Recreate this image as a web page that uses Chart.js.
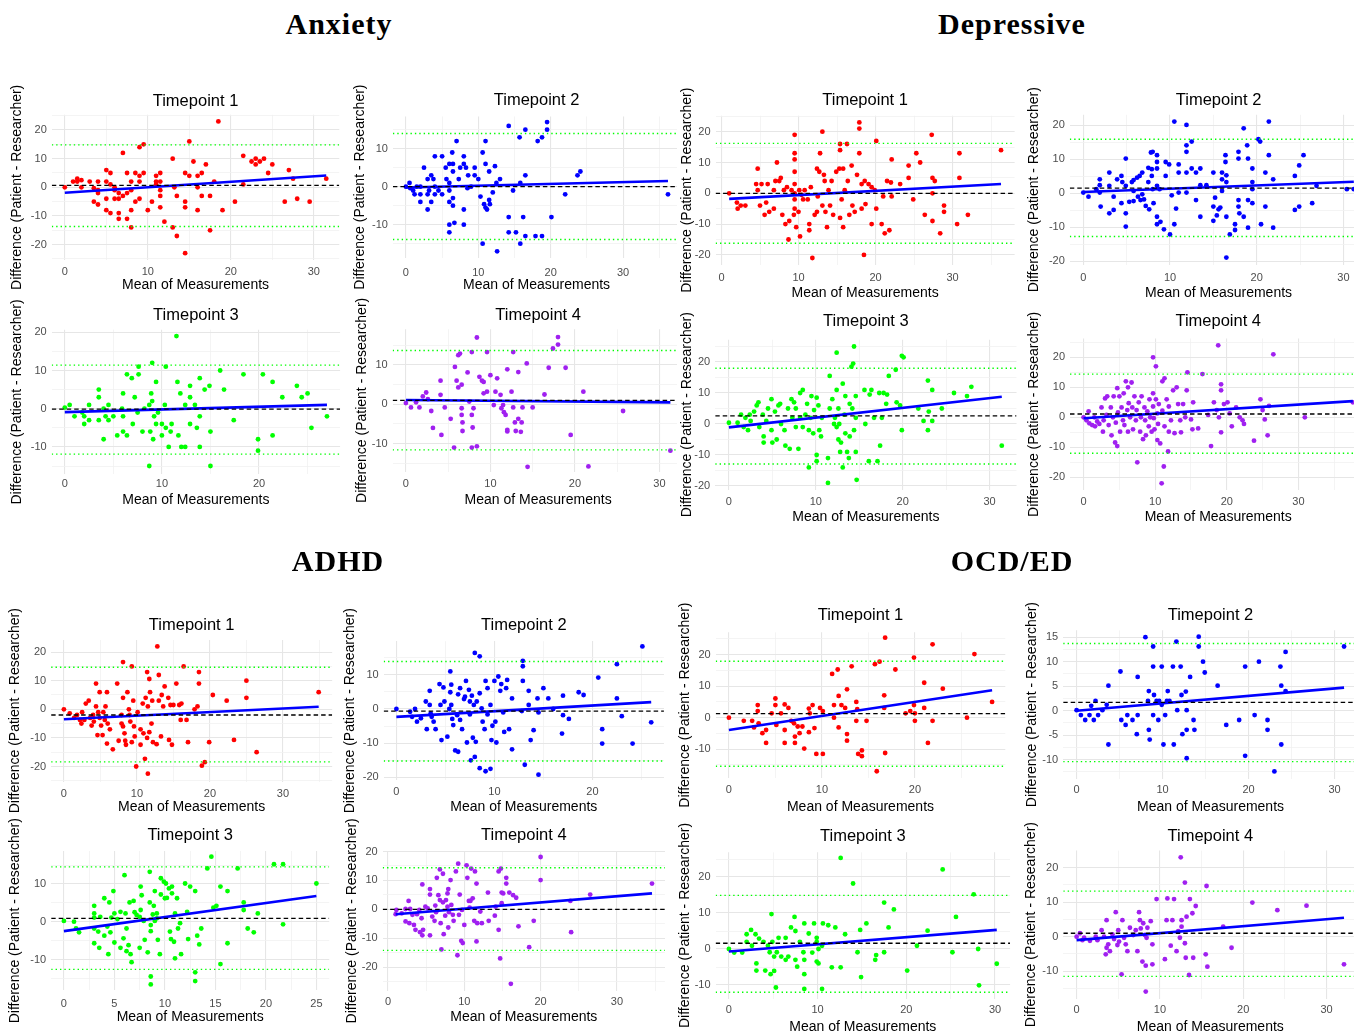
<!DOCTYPE html>
<html><head><meta charset="utf-8">
<script src="https://cdn.jsdelivr.net/npm/chart.js@4.4.1/dist/chart.umd.min.js"></script>
<style>
html,body{margin:0;padding:0;background:#fff;}
body{width:1354px;height:1035px;position:relative;overflow:hidden;}
.grp{position:absolute;top:0;height:1035px;overflow:hidden;}
.gt{position:absolute;font-family:'Liberation Serif','Times New Roman',serif;font-weight:bold;font-size:30px;letter-spacing:1px;color:#000;transform:translate(-50%,-50%);white-space:nowrap;line-height:1;}
canvas{position:absolute;}
</style></head><body>
<div class="grp" id="gL" style="left:0;width:677px"></div>
<div class="grp" id="gR" style="left:677px;width:677px"></div>
<div class="gt" style="left:339px;top:24px">Anxiety</div>
<div class="gt" style="left:1012px;top:24px">Depressive</div>
<div class="gt" style="left:338px;top:561px">ADHD</div>
<div class="gt" style="left:1012px;top:561px">OCD/ED</div>
<script>
// ---------------- DATA ----------------
const groupTitles = ['Anxiety','Depressive','ADHD','OCD/ED'];
const timepointTitles = ['Timepoint 1','Timepoint 2','Timepoint 3','Timepoint 4'];
const xAxisLabel = 'Mean of Measurements';
const yAxisLabel = 'Difference (Patient - Researcher)';

const anxietyT1 = [[0,0],[1,2],[1.5,3],[1.5,2],[2,2.5],[2,0],[3,2],[3.5,-0.3],[3.5,-5],[4,2],[4,-1],[4,-6],[4,-2],[5,6],[5,2],[5,-4],[5,-8],[5.5,5],[5.5,1],[5.5,-9],[6,0],[6,-4],[6,-1],[6.5,-4],[6.5,-2],[6.5,-9],[6.5,-11],[7,12],[7,-3],[7.5,-2],[7.5,-11],[7.5,5],[8,-8],[8,2],[8,-1],[8,-14],[8.5,5],[8.5,-5],[9,14],[9,4],[9,2],[9,-4],[9.5,15],[9.5,5],[10,-8],[10.5,-5],[11,2],[11,1],[11,4],[11.5,5],[11.5,-1],[11.5,-3],[11.5,-7],[11.5,2],[12,-12],[13,10],[13,-14],[13.2,0],[13.5,-3],[13.5,-17],[14.5,5],[14.5,-5],[14.5,-7],[14.5,-23],[15,16],[15,4],[15.5,9],[16,0],[16,4],[16,-8],[16.5,5],[16.5,-3],[17,8],[17.5,-3],[17.5,-15],[18,2],[18.5,23],[19,-8],[20.5,-5],[21.5,1],[21.5,11],[22.5,9],[23,10],[23,8],[23.5,9],[24,10],[24.5,5],[25,8],[26.5,-5],[27,6],[27.5,3],[28,-4],[29.5,-5],[31.5,3]];
const anxietyT2 = [[0,0],[0.5,1],[0.6,-0.4],[1,-1],[1.5,0],[1.2,-2],[2,0],[2,-4],[2,-2],[2.5,5],[3,2],[3,-2],[3,-6],[3.2,-1],[3.5,3],[3.5,-4],[3.8,2],[4,8],[4,-2],[4,0],[4.5,-1],[5,8],[5,-2],[5.5,5],[5.6,2],[6,6],[6,1],[6,-1],[6,-4],[6,-10],[6,-12],[6.4,9],[6.5,6],[6.5,4],[6.5,-3],[6.5,-5],[6.7,-9.5],[7,12],[7.3,2],[7.5,5],[8,6],[8,8],[8,-6],[8,-10],[8.3,5],[8.5,-0.4],[8.6,3],[9,0],[9.5,5],[9.5,3],[10,2],[10.3,-2.6],[10.6,9],[10.6,-15],[10.8,-4.6],[11,12],[11,6],[11,-5.5],[11.2,-6],[11.5,-3.5],[11.5,4],[11.6,-4.6],[12,-1.5],[12.3,5.4],[12.5,1],[12.6,-17],[13,2],[14.2,16],[14.2,-8],[14.2,-12],[14.8,-1],[15.2,-12],[15.7,13],[15.8,1],[15.8,-15],[16.2,-8],[16.5,15],[16.5,3],[16.5,-13],[17.9,-13],[18.2,12],[18.8,13],[18.8,-13],[19.5,15],[19.5,17],[20.1,-8],[22,-2],[23.7,3],[24.1,4],[36.2,-2]];
const anxietyT3 = [[0,0.3],[0.5,1],[1,-2],[1.8,-1],[2,-2],[2,-4],[2.5,1],[2.5,-3],[3.5,5],[3.5,3],[3.5,-3],[4,-8],[4,0],[4.2,-2],[4.5,1],[4.5,-3],[5,-2],[5.4,-7],[5.9,0],[6,4],[6,-2],[6,-6],[6.4,9],[6.4,-7],[6.9,8],[7,-4],[7.2,3],[7.5,-1],[7.6,11],[7.6,9],[8,-6],[8.2,0],[8.7,1],[8.7,-15],[8.8,-6],[8.9,4],[9,2],[9,12],[9.1,-8],[9.2,-2],[9.4,7],[9.4,-4],[9.6,-1],[10,-7],[10,-4],[10.3,1],[10.4,11],[10.4,-5],[10.7,-10],[10.9,-6],[11,-4],[11.5,19],[11.6,7],[11.7,-7],[11.9,4],[12,-10],[12.4,-10],[12.4,1],[12.9,6],[12.9,3],[12.9,-4],[13.4,1],[13.6,-5],[13.9,8],[13.9,-2],[13.9,-10],[14.4,5],[14.9,6],[15,-6],[15,-15],[16,10],[16.4,5],[17.4,-3],[18.4,9],[19.9,-11],[19.9,-8],[20.4,9],[21.4,7],[21.4,-7],[22.4,3],[23.9,6],[24.4,3],[25,4],[25.4,-5],[27,-2]];
const anxietyT4 = [[0,0.3],[0.6,-0.8],[1.2,0.5],[1.6,-0.8],[2,2],[2.4,3],[2.6,1.3],[3,-1.7],[3.2,-6],[4.1,6],[4.1,2.4],[4.2,-7.8],[4.6,-0.8],[5.3,-3.7],[5.7,-11],[5.8,9.5],[6,6],[6.2,12.5],[6.2,4.3],[6.4,12.9],[6.6,5],[6.6,-1],[6.6,-2.7],[6.7,-6.8],[6.7,-4.6],[7.3,8.1],[7.5,0.7],[7.8,13.3],[7.8,-2.7],[7.8,-11],[7.9,-5.9],[8,-1],[8.4,17],[8.4,-10.7],[8.7,7],[9,6],[9.2,5.7],[9.2,2.8],[9.6,13.3],[9.6,3.2],[10,7.4],[10.4,-0.2],[10.6,3.2],[10.8,6.6],[11.2,2.4],[11.3,-1],[11.5,-0.2],[11.6,-2],[11.8,-2.7],[12,-6.5],[12,8.9],[12,-6.9],[12.5,3.2],[12.7,13.3],[12.7,-0.8],[12.9,-4.6],[13,-6.8],[13.3,8.2],[13.3,-3.7],[13.6,-7],[13.7,-4.6],[13.8,-0.8],[14.3,10.4],[14.4,-15.9],[15,-0.8],[16.4,2.5],[16.9,9.3],[17.4,14.2],[18,15.2],[18,17.1],[18.9,9.3],[19.5,-7.8],[21,3.2],[21.6,-15.8],[25.7,-1.7],[31.3,-11.8]];

const depressiveT1 = [[1,0],[2,-3],[2.1,-5],[2.5,-4],[3.1,-4],[4.5,3],[4.7,8],[4.7,1],[5,-4],[5.2,3],[5.6,-7],[5.8,-3],[6,3],[6.2,-6],[6.8,1],[6.8,-5],[7,4],[7.2,10],[7.5,4],[7.7,5],[7.9,-7],[8.1,1],[8.3,-10],[8.5,2],[8.7,-15],[8.8,-9],[9.1,1],[9.4,-7],[9.5,19],[9.5,13],[9.5,11],[9.5,7],[9.5,3],[9.5,0],[9.5,-2],[9.5,-5],[9.7,-11],[10,-6],[10.1,1],[10.2,-14],[10.4,-0.5],[10.6,-2],[10.8,1],[11.2,-2],[11.4,-10],[11.4,-12],[11.6,2],[11.8,-21],[12.1,-7],[12.4,8],[12.4,-6],[12.5,-1],[12.7,7],[12.8,13],[13.1,20],[13.1,-4],[13.3,6],[13.4,4],[13.5,-6],[13.7,-11],[13.9,1],[14.1,-4],[14.3,4],[14.5,-7],[14.9,7],[15.3,8],[15.4,16],[15.4,14],[15.4,-8],[15.6,-2],[15.8,8],[15.8,-11],[16,1],[16.3,16],[16.4,4],[16.6,-7],[16.9,9],[17,-4],[17.3,-6],[17.6,6],[17.9,23],[17.9,21],[17.9,13],[18.2,3],[18.2,-5],[18.5,-20],[18.6,4],[18.7,-3.5],[19.1,3],[19.5,-10],[19.5,2],[19.9,1],[20.1,17],[20.1,-5],[20.8,-10],[21,-1],[21.2,-13],[21.5,4],[21.8,-12],[22,3.5],[22.1,11],[22.1,-1],[23.2,3],[24.3,9],[24.3,5],[24.9,-2],[25.3,13],[25.8,10],[26.4,-7],[27.3,19],[27.4,5],[27.4,0],[27.4,-9],[27.7,4],[28.4,-13],[28.9,-4],[28.9,-6],[30.6,-10],[30.9,13],[30.9,5],[32,-7],[36.3,14]];
const depressiveT2 = [[0,0.2],[0.6,-1],[1.5,1.2],[1.9,4.1],[1.9,2.4],[2,-3.9],[1.9,0.2],[3,6.1],[3,2.2],[3,-5.9],[3.5,-1],[3.5,-4.9],[3.9,4.1],[4.4,5.1],[4.5,3.3],[4.9,10.2],[4.9,2.2],[4.9,-5.9],[4.9,-9.8],[4.4,-2.9],[5.3,-2.5],[5.6,3.3],[5.8,3.9],[5.8,0.7],[5.8,-2.3],[6.2,4.6],[6.3,-1],[6.5,5.1],[6.6,-2],[6.8,6.1],[6.8,-0.3],[7,-1.8],[7.2,-3.7],[7.5,7.5],[7.5,3.3],[7.6,-4.7],[7.8,12],[8,12.2],[7.9,7.1],[7.9,5.1],[8,1.2],[8.1,-2.9],[8.5,11.2],[8.5,9.2],[8.5,7.3],[8.5,2.2],[8.5,-6.9],[8.5,-9.1],[8.8,1.2],[8.9,-8.4],[9.3,-10.6],[9.5,9.2],[9.5,5.1],[9.9,8.5],[10,-12.1],[10.2,-0.6],[10.5,21.1],[10.5,-9.1],[10.7,-4.5],[11,8.5],[11,6.1],[11,0.2],[11.9,20.1],[11.9,14.1],[11.9,12.2],[11.9,6.1],[11.9,0.2],[12.5,15.2],[12.5,7.3],[13,6.1],[13,-2],[13.5,7.3],[13.5,-6.9],[13.5,2.4],[14.2,2.4],[15,6.1],[15,-3.9],[15,-8.1],[15.2,-1.3],[15.4,-6.5],[15.6,-4.7],[15.8,-4.2],[16,6.1],[16,4.1],[16,0.7],[16.4,11.2],[16.4,9.2],[16.5,5.3],[16.5,-6.9],[16.5,-18.9],[16.5,3.3],[16.9,-12.1],[17.5,-9.1],[17.5,-10.8],[17.9,12.2],[17.9,10.2],[17.9,-2],[17.9,-3.9],[18,-5.9],[18.5,19.1],[18.5,-6.9],[18.9,14.1],[19,10.2],[19,-2],[19,-10.1],[19.5,7.3],[19.5,3.3],[19.5,1.2],[19.5,-2.9],[20.2,15.9],[20.4,15.2],[20.5,-9.1],[21,6.1],[21,-3.9],[21.4,21.1],[21.4,11.2],[21.9,4.1],[21.9,-10.1],[24.4,5.1],[24.4,-4.9],[24.9,8.2],[24.9,-3.9],[25.4,11.2],[26.4,-2.9],[26.9,2.2],[30.4,1.2],[31.2,1.2]];
const depressiveT3 = [[0,0.4],[1,0.4],[1.4,3],[1.7,-1],[1.9,2],[2.2,-2],[2.4,3],[2.5,1],[2.9,4],[3.2,6],[3.4,7],[3.5,-1],[3.9,3],[4,-4],[4,-6],[4.3,1],[4.5,5],[4.9,8],[4.9,-2],[5,-6],[5.3,4],[5.5,-5],[5.7,6],[5.9,6.5],[6,0],[6.4,-2],[6.5,-7],[6.8,5],[7,-8],[7.2,8],[7.3,2],[7.5,7],[7.7,5],[7.7,-1],[8,-8],[8.2,2],[8.2,10],[8.5,11],[8.5,-1],[8.8,3],[9,6.5],[9.2,-2],[9.2,-14],[9.4,2],[9.5,9],[9.7,-3],[9.8,4.5],[10.1,8.5],[10.1,-10],[10.1,-12],[10.3,6],[10.4,-2],[10.6,-4],[10.7,2],[11.4,-19],[11.4,-11],[11.6,5],[11.6,15.5],[11.9,8],[12.1,0],[12.2,2],[12.4,23],[12.4,11],[12.4,-1],[12.6,5],[12.6,-5],[12.7,0],[12.8,-9],[12.9,-6],[13.1,13],[13.1,-14],[13.3,3],[13.4,9],[13.4,-3],[13.6,-9],[13.8,-11],[13.9,6.5],[13.9,-4],[14.1,18.5],[14.2,5],[14.3,19.5],[14.4,-2],[14.4,25],[14.6,9],[14.6,2],[14.6,-9],[14.7,-18],[15.6,11],[15.7,0],[16.1,-12],[16.2,9.5],[16.4,11],[16.7,2],[17.1,-12],[17.3,10],[17.4,-7],[17.6,2],[17.8,10],[18.1,6.5],[18.2,9.5],[18.4,15.5],[19.2,17.5],[19.3,7],[19.7,6],[19.9,22],[20.1,21.5],[19.9,-2],[21.8,5],[22.4,1],[22.9,14],[22.9,-2],[23,4],[23.4,11],[23.4,1],[24.5,5],[25.9,10],[27.4,9],[27.9,12],[31.4,-7]];
const depressiveT4 = [[0,0],[0.4,-1],[0.7,2],[0.8,-2],[1.2,-2.6],[1.5,0],[1.6,-3],[1.9,-1.4],[2.2,-2.2],[2.5,3.3],[2.7,-4.8],[2.8,-1],[3,6.3],[3.2,0.8],[3.3,7],[3.5,-2.6],[3.8,3.3],[3.9,-6],[4.1,0],[4.2,7],[4.4,-8.4],[4.5,-1.8],[4.7,9.7],[4.7,-9.6],[4.8,1.6],[5,7],[5.1,-4.8],[5.3,3.3],[5.5,-1],[5.6,8],[5.7,-2.6],[5.9,12],[6.1,2.4],[6.2,-4.8],[6.2,10],[6.3,4.7],[6.5,0],[6.7,11.6],[6.8,3.3],[6.9,-4],[7.1,7],[7.3,-1],[7.4,2.4],[7.5,-15],[7.7,5],[7.9,-4.8],[8,0],[8.1,7],[8.3,-7.3],[8.5,3.3],[8.6,-1],[8.7,-6],[8.9,2],[9.1,-3],[9.2,6],[9.3,0],[9.5,-4.8],[9.7,20],[9.7,8],[9.7,3.6],[9.8,-0.3],[9.9,-4],[10.1,17],[10.1,6],[10.3,1.3],[10.3,-7.6],[10.4,-2.2],[10.5,4.4],[10.7,-8.7],[10.9,-22],[11,12],[11,2.2],[11.2,-16.4],[11.3,13],[11.3,-3],[11.6,6],[11.8,-11.4],[11.9,3.6],[11.9,-4.8],[12.2,-1],[12.5,9],[12.7,-5.3],[13,10],[13.2,4.4],[13.5,-1],[13.6,-5],[13.9,4.4],[14.2,0],[14.4,9],[14.5,15],[15,-0.7],[15.2,-4],[15.3,5],[16,-3.7],[16.6,14.4],[17.4,0.8],[17.8,-9.6],[18.2,5],[18.6,2.4],[18.8,24],[18.9,0],[19.2,-5],[19.2,9],[19.2,11],[19.6,4.4],[20.1,5],[20.4,1.3],[20.7,-3],[21.3,3.3],[21.8,0],[22.2,-1],[22.4,-2.2],[23.8,-7.8],[24.7,6],[25,2.4],[25.3,-0.7],[25.7,-6],[25.9,3.8],[26.5,21],[30.9,0],[37.6,5]];

const adhdT1 = [[0,0],[0.8,-1.4],[1.4,-3],[1.8,-2],[2.2,-3.7],[2.4,-5],[2.5,-1],[2.8,-3.7],[3,2],[3.4,3],[3.6,-3],[3.8,-5.7],[4,-2],[4.1,-4.3],[4.4,9],[4.4,1],[4.6,-9],[4.7,-1],[4.9,6],[4.9,-3],[5.1,-5.7],[5.3,-9],[5.4,-1],[5.6,-3.7],[5.7,1],[5.9,6],[5.9,-12],[6,-5],[6.3,-7],[6.7,-14],[7.3,9],[7.5,-11],[7.9,-2],[7.9,-5],[8.1,16.5],[8.1,4],[8.1,-6],[8.3,-8.4],[8.4,-11],[8.5,-12.4],[8.7,6],[8.9,0],[9,-2],[9.1,-4.3],[9.3,15],[9.3,-11.5],[9.5,3],[9.6,-6],[9.7,-9.5],[9.9,-20],[10.1,-1],[10.5,-7],[10.5,-12.4],[10.8,2],[10.9,-8.4],[11.1,-17.3],[11.2,4],[11.4,13],[11.4,-10],[11.5,1],[11.5,-22.5],[11.7,10.6],[11.7,-8],[11.8,6],[12,-5],[12.1,3],[12.2,-11.5],[12.7,-12.2],[12.8,22],[13,12],[13,3],[13.3,-9.5],[13.4,5],[13.6,1],[13.8,8],[14.3,4],[14.4,-10.7],[14.6,1.5],[14.8,-12.4],[15,1.5],[15.4,9],[15.8,1.5],[16,-3.7],[16.1,2],[16.4,15],[16.8,-3.7],[17,-11.5],[17.9,0],[18.3,1],[18.5,13],[18.5,9],[18.9,-19.7],[19.3,-18.5],[19.9,-11.5],[20.4,5],[22.3,3],[23.3,-10.7],[25,10],[25,4],[26.4,-15],[34.9,6]];
const adhdT2 = [[0,0],[1.4,-0.8],[1.6,-2.3],[1.9,0],[2.1,-3.7],[2.5,-2.7],[3,2.2],[3.1,-5.9],[3.4,5.3],[3.4,1.2],[3.5,-1.3],[3.6,-2.3],[3.8,-3.7],[4,-5.9],[4.4,7.3],[4.5,1.2],[4.6,-9.1],[4.8,6.3],[4.9,2.2],[5.2,-8.1],[5.4,0],[5.5,11],[5.5,4.9],[5.6,7.1],[5.6,1.2],[5.7,-2.9],[5.8,-4.7],[6,-12.1],[6.2,-1.8],[6.3,4.3],[6.3,-12.5],[6.5,6.1],[6.5,-3.2],[6.7,-5.9],[6.9,2.9],[7,3.6],[7.1,8.2],[7.2,-9.8],[7.4,5.6],[7.5,2.2],[7.5,-1.6],[7.6,-15],[7.7,3.9],[7.8,-8.4],[7.9,1.2],[8,16.4],[8,-14],[8.1,-9.6],[8.2,2.2],[8.5,15.4],[8.5,4.6],[8.5,-17.3],[8.7,0.2],[8.8,-3.7],[9,-5.9],[9.1,8.2],[9.1,-18.2],[9.3,6.1],[9.3,-1.6],[9.6,1.2],[9.6,-17.5],[9.7,-9.1],[9.8,-4.9],[10,8.2],[10.1,-3.7],[10.2,-9.8],[10.4,9.5],[10.6,5.3],[10.7,7.3],[10.9,-1],[11,-6.7],[11.2,6.1],[11.3,8.5],[11.5,-5.9],[11.8,-11.8],[11.8,3.1],[12.8,-0.6],[12.9,12.5],[12.9,14.1],[12.9,8.2],[13.1,-16.3],[13.5,5.3],[13.5,1.2],[13.7,-9.1],[14,-6.2],[14.4,3.1],[14.5,-1],[14.5,-19.2],[15,6.1],[15.5,3.1],[16,0],[16.9,-7.2],[17,3.9],[17,-1.8],[17.6,-2.9],[18.6,4.9],[19.1,4.1],[20.6,9.2],[21,-5.9],[21,-10.1],[22.5,3.1],[22.5,13.1],[23,-2.1],[24.1,-10.1],[25.1,18.3],[26,-3.9]];
const adhdT3 = [[0,0.2],[1,0],[1.2,-1.8],[1.5,-2.8],[3,4.2],[3,2.2],[3,1.1],[3,-1.8],[3,-5.7],[3.4,-2.6],[3.5,-6.9],[3.6,1.3],[4,6.2],[4,-3.7],[4.3,-1.3],[4.4,-8.6],[4.5,5.1],[4.6,-2.8],[4.7,1.1],[4.9,8.1],[5,2.2],[5,-5.5],[5.3,0.7],[5.6,2.6],[5.6,-6.9],[5.9,-4.4],[6,12.3],[6.1,2.2],[6.2,-1.8],[6.2,-7.8],[6.4,-6.2],[6.5,5.1],[6.6,-8.6],[6.7,-10.7],[6.9,5.5],[7,2.5],[7.2,1.8],[7.5,1.3],[7.5,-6.9],[7.6,9.3],[7.6,3.1],[7.7,7],[7.9,0.2],[8,-4.8],[8.3,-8.1],[8.5,13.2],[8.5,5.1],[8.6,-0.9],[8.6,-2.5],[8.6,-14.5],[8.6,-16.6],[8.8,1.9],[8.9,4.2],[9,8.1],[9,0.2],[9.2,0.9],[9.2,2.2],[9.3,-4.8],[9.5,-8.6],[9.6,7.2],[9.6,11.5],[9.9,10.6],[10,6.2],[10.1,10.1],[10.2,6.3],[10.4,8.8],[10.5,-2.6],[10.6,-4.6],[10.7,9.3],[10.7,7.5],[10.9,-5.3],[11,2.2],[11,-9.7],[11.2,6.2],[11.3,-1.8],[11.5,-0.4],[11.6,-8.6],[12,10.1],[12.2,2.6],[12.3,-4.6],[12.5,9.3],[13,8.1],[13,-13.4],[13,-15.7],[13.2,-3.7],[13.4,-6],[13.6,-1.8],[14.2,14.1],[14.6,17.2],[14.8,3.7],[15.1,4.2],[15.5,9.3],[15.5,-11.2],[16.2,8.1],[16.2,-5.7],[17.2,14.1],[17.8,5.1],[17.8,3.1],[18.2,-1.8],[18.8,-2.8],[19.2,2.2],[20.8,15.2],[21.7,15.2],[21.7,-0.7],[25,10.1]];
const adhdT4 = [[1,-1.7],[1.1,-0.2],[1.8,-1.4],[2.3,0.1],[2.3,-4.2],[2.7,2.9],[2.8,-4.8],[2.9,0.1],[3.2,-1.9],[3.4,-5.4],[3.6,-7.1],[3.8,-1.7],[4.1,-0.2],[4.2,-7.9],[4.4,-3.1],[4.5,8.6],[4.5,-9],[4.6,-7.1],[4.9,0.9],[5.2,0.3],[5.5,5.1],[5.5,7],[5.5,-9],[5.8,-2.5],[6.1,-4],[6.2,1.3],[6.3,-1],[6.4,10.9],[6.6,4.9],[6.8,13.8],[6.8,3.2],[6.9,-4.8],[7,-13.9],[7.2,12.3],[7.2,2.4],[7.3,-8.6],[7.5,-2.2],[7.6,3.2],[7.8,5.5],[7.8,0.9],[7.9,7],[7.9,-6.3],[8,-1],[8.2,10.1],[8.3,1.5],[8.5,-1.9],[8.6,-4],[8.9,13.1],[9.1,-15.9],[9.2,15.8],[9.3,-1.9],[9.4,5.1],[9.6,-10.9],[9.7,-0.2],[9.8,-11.7],[10,-5.4],[10.3,15.2],[10.4,10.9],[10.6,2.9],[10.7,0.6],[10.8,2.9],[10.9,14.1],[11.1,3.8],[11.3,-4],[11.4,13.1],[11.6,8.9],[11.6,-11.1],[11.7,-4.8],[12.1,-0.8],[12.3,-4.8],[13.1,5.8],[13.2,-4],[14,-2.2],[14.1,0.9],[14.5,-7.1],[14.5,13.1],[14.7,-17],[14.8,14.1],[14.9,5.8],[14.9,2.1],[15.1,5.5],[15.5,10.9],[15.5,8.9],[15.9,5.8],[16.1,-25.8],[16.4,4.9],[16.8,4],[17.1,-5.9],[18.5,-13.1],[19.1,-4],[20,18.1],[20,10.1],[23.9,2.9],[24,-7.9],[26.5,5.1],[34.6,8.9]];

const ocdT1 = [[0,0],[1.6,-1],[2.5,-1],[2.7,-3.1],[3.1,4],[3.1,2.1],[3.2,-1.8],[3.6,-4.9],[4,-8],[4,-3.9],[4.6,1.4],[5,6.1],[5,4],[5.1,-2.3],[5.6,1.4],[6,-8],[6,4.2],[6,-3.9],[6.4,3.1],[6.7,-1],[7,-1.8],[7.1,-6],[7.1,-8],[7.4,-2.8],[7.6,-4.9],[7.9,-2.8],[8.1,-9.8],[8.6,2.9],[8.6,-4.6],[8.7,1.4],[9,4],[9.2,-3.3],[9.4,-11.5],[9.8,3.1],[10.1,-11.5],[10.1,2.1],[11.1,13.9],[11.3,4],[11.3,0],[11.7,15.3],[11.8,6.9],[11.8,-3.1],[12.1,4],[12.5,3.1],[12.7,9],[12.7,-5.2],[12.7,-7.3],[13.2,16.3],[13.7,5],[13.7,-1],[13.8,2.7],[13.9,-11.5],[14.3,-12.2],[14.3,-10.4],[14.8,-1],[15.7,17],[15.9,-17],[16.2,17.8],[16.7,7.1],[16.7,3.1],[16.8,25.4],[16.8,-11.2],[17.9,15.3],[19,1.4],[19.5,2.1],[19.9,4],[19.9,19.1],[20,-1],[20,1.4],[21,11.1],[21,3.1],[21.4,-8],[21.9,23.3],[21.9,-1],[23,9.2],[25.6,0],[26.4,20.2],[28.3,5]];
const ocdT2 = [[0,0.1],[0.5,-0.9],[1,-1.9],[1.5,-0.9],[1.7,1],[2,-1.9],[2.2,2],[2.5,-0.9],[3,0.1],[3.5,1.2],[3.7,5.1],[3.7,-6.9],[5.1,8],[5.2,-1.9],[5.7,-2.9],[5.9,-0.9],[6.5,-1.9],[7,-4.8],[7.1,-0.9],[7.1,6.9],[8,15],[8.3,2],[8.4,4],[8.4,-3.9],[8.5,-5.9],[8.9,9],[8.9,13.1],[8.9,-0.9],[9,3.2],[9.3,2],[9.5,-1.9],[9.6,2],[9.9,9],[9.9,1.2],[10.1,-6.9],[10.3,-0.9],[10.5,2],[10.6,4],[10.8,2],[11.2,9],[11.3,-6.9],[11.6,14.1],[11.7,0.1],[12.1,9],[12.2,3.2],[12.3,-4.8],[12.7,3.9],[12.8,0.1],[12.8,-3.9],[12.8,-9.7],[13.2,6.9],[13.6,-1.9],[13.7,-3.9],[14.2,15.1],[14.2,13.1],[14.7,10],[14.9,7.8],[16.4,5.1],[17.4,-2.9],[18.9,-1.9],[19.6,-9.2],[19.6,9],[20.7,-0.9],[21.2,10],[22.2,-1.9],[22.2,-3.9],[23,-12.4],[23.7,9],[23.8,5.1],[23.8,-6.9],[24.3,12],[24.3,4],[31.1,13.1]];
const ocdT3 = [[0,0],[0.6,-1],[1.5,-1],[2,4.1],[2,2],[2.5,5.3],[2.6,0.9],[3,4.1],[3.1,-4],[3.1,-6],[3.4,2.9],[3.9,2],[4.1,-6],[4.4,0.9],[4.6,-0.9],[4.7,-7],[4.8,9.7],[4.9,2],[5.1,-6.1],[5.1,-2.1],[5.3,-10.7],[5.4,-0.9],[5.6,3.1],[5.9,-2.1],[6.4,3.1],[6.4,-3],[6.7,-2.1],[7,6],[7.4,8.9],[7.5,5],[7.5,-3],[7.7,-4.9],[8,2],[8.4,-0.9],[8.5,7.1],[8.5,-3],[8.5,-7],[8.5,-11.1],[9,4.3],[9.4,-1],[9.6,7.1],[9.9,3.1],[9.9,2],[9.9,-3.5],[10.1,-4],[10.1,0],[10.5,0.9],[10.5,-11.1],[10.6,7.1],[11.2,6.6],[11.6,-5.1],[12,6],[12.6,25.3],[12.6,-5.1],[13.1,4.1],[14,18.2],[14.5,-0.9],[14.8,5.3],[14.9,-7.8],[15.5,7.1],[16.5,-3],[16.6,-1.7],[17.5,12.9],[17.5,-0.9],[18,6],[18.6,11],[20.1,-6],[21.2,0.9],[22.4,5.1],[24.1,22.1],[25.2,-0.9],[25.6,8.9],[27.6,15.2],[28.1,0],[28.2,-10.1],[30.2,-4.1]];
const ocdT4 = [[0,0],[0.4,1],[0.7,-1],[0.9,-0.3],[1.6,-1.2],[2.3,0],[2.5,-1],[3,1.9],[3.3,0],[3.5,-5.1],[3.6,4.8],[3.6,-3.2],[3.8,-2.2],[4,-4.2],[4.3,0.7],[4.5,-0.7],[4.7,7.1],[4.9,-2.4],[5,1.9],[5.1,-1.4],[5.4,-10.9],[5.5,4.8],[5.7,-0.3],[5.9,-2.2],[6.1,-4.2],[6.4,2.6],[6.8,0.5],[7.1,1.9],[7.3,-4.2],[7.5,7.1],[7.6,4.8],[7.7,2.4],[7.9,-7.2],[8,3.9],[8.2,0.5],[8.3,-8.4],[8.3,-15.9],[8.4,-0.3],[8.5,2.6],[8.9,4.5],[9.1,-2.2],[9.1,-8],[9.6,10.9],[10.6,-6.5],[10.8,4.8],[10.9,11.1],[11.3,-2.6],[11.5,4.8],[11.7,10.9],[12,-4.2],[12.2,1.6],[12.4,-0.3],[12.5,23],[12.6,4.8],[12.6,2.9],[13,15.7],[13,-1.9],[13.1,-6.1],[13.2,5.8],[13.5,-11.1],[13.6,10.9],[13.9,6.8],[14,-6.1],[14.3,8.9],[15.5,-5.1],[15.6,14.7],[15.7,-8.7],[17.6,2.9],[18.6,-3.2],[21.1,9.9],[24.1,7.7],[27.6,9],[32.1,-8]];

// panel order: Anxiety T1..T4, Depressive T1..T4, ADHD T1..T4, OCD/ED T1..T4
const panelPoints = [anxietyT1,anxietyT2,anxietyT3,anxietyT4,depressiveT1,depressiveT2,depressiveT3,depressiveT4,adhdT1,adhdT2,adhdT3,adhdT4,ocdT1,ocdT2,ocdT3,ocdT4];
const meanDifference = [0.7,0.0,-0.1,1.0, 0.0,1.5,2.6,1.1, -2.0,-0.6,0.9,0.0, 1.3,1.7,1.6,1.0];
const upperLimit = [14.8,14.0,11.4,13.7, 16.2,15.9,18.0,14.4, 14.7,13.9,14.5,14.4, 17.9,13.7,14.9,13.2];
const lowerLimit = [-13.7,-13.9,-11.9,-11.6, -16.2,-12.7,-12.9,-12.0, -18.4,-15.2,-12.6,-14.2, -15.4,-10.4,-12.0,-11.5];
const fitStart = [[0,-1.9],[0,-0.2],[0,-0.9],[0,1.1], [1,-1.8],[0,0.4],[0,-1.1],[0,-0.3], [0,-3.5],[0,-2.3],[0,-2.5],[1,-1.7], [0,-3.9],[0,0.0],[0,-0.7],[0,-1.0]];
const fitEnd = [[31.5,4.1],[36.2,1.5],[27,1.0],[31.3,0.5], [36.3,3.0],[31.2,3.4],[31.4,8.8],[37.6,5.4], [34.9,0.9],[26,2.0],[25,6.8],[34.6,5.5], [28.3,8.7],[31.1,4.7],[30.2,5.3],[32.1,5.5]];
const xRange = [[-1.57,33.07],[-1.8,37.9],[-1.35,28.35],[-1.57,32.87], [-0.77,38.07],[-1.56,32.76],[-1.575,33.1],[-1.9,39.5], [-1.75,36.75],[-1.3,27.3],[-1.26,26.27],[-0.7,36.3], [-1.42,29.72],[-1.56,32.7],[-1.5,31.7],[-1.6,33.7]];
const yRange = [[-25.3,25.3],[-18.7,18.5],[-17.2,20.7],[-17.1,19.1], [-23.2,25.2],[-21,23.1],[-21.2,27.2],[-24.3,26.3], [-25.25,24.25],[-20.85,19.85],[-18.2,18.7],[-28.2,20.2], [-19.1,27.1],[-13.9,16.4],[-13.75,26.85],[-17.95,24.95]];
const xLabelStep = [10,10,10,10, 10,10,10,10, 10,10,5,10, 10,10,10,10];
const yLabelStep = [10,10,10,10, 10,10,10,10, 10,10,10,10, 10,5,10,10];

// ---------------- LAYOUT (pixel anchors) ----------------
// [px of x=0, px per x unit, px of y=0, px per y unit, title centre y, y-title centre x, x-title centre y, x tick centre y]
const frame = [
 [64.8,8.30,187.3,2.865,101.7,17,285,271.7],
 [405.9,7.24,186.7,3.8,100.7,360.5,285,272.7],
 [64.8,9.71,408.7,3.82,315.7,17.3,500,483.3],
 [405.9,8.45,404.3,3.93,315.7,362.7,500,483.3],
 [721.5,7.7,193.3,3.08,100.7,687.5,293.3,277],
 [1083.3,8.67,193.3,3.4,100.7,1034.3,293.3,277],
 [728.9,8.69,424,3.1,321.7,687.5,516.7,501.7],
 [1083.6,7.16,417.3,3.0,321.7,1034.3,516.7,501.7],
 [63.9,7.3,709.3,2.86,625.7,15,807.3,793.3],
 [396.4,9.8,709,3.42,625.7,350.6,807.3,791.7],
 [63.9,10.1,921.7,3.78,835.7,15,1017.3,1003.3],
 [388,7.63,909.3,2.89,835.7,352,1017.3,1001.7],
 [728.9,9.3,717.7,3.15,615.7,685.3,806.7,789.3],
 [1076.6,8.6,710.7,4.9,615.7,1032,806.7,789.3],
 [728.9,8.87,949,3.6,836.7,685.3,1026.7,1009.3],
 [1076.6,8.33,936.7,3.45,836.7,1031.3,1026.7,1009.3]
];
const pointColors = ['#FF0000','#0000FF','#00FF00','#A020F0'];
const FONT = "'Liberation Sans', Arial, sans-serif";
const EXTRA_TOP = 50;

function isMajor(v, step){ const r = Math.abs(v % step); return r < 1e-6 || Math.abs(r - step) < 1e-6; }

function makePanel(i){
  const [x0,kx,y0,ky,titleY,yTitleX,xTitleY,xTickY] = frame[i];
  const [xmin,xmax] = xRange[i], [ymin,ymax] = yRange[i];
  const L = x0 + xmin*kx, R = x0 + xmax*kx, T = y0 - ymax*ky, B = y0 - ymin*ky;
  const cl = Math.round(yTitleX - 8.4);
  const titleTop = Math.floor(titleY - 9.9);
  const ct = titleTop - EXTRA_TOP;
  const cb = Math.ceil(xTitleY + 8.4);
  const cr = Math.ceil(R) + 1;
  const W = cr - cl, H = cb - ct;
  const group = Math.floor(i/4);
  const rightSide = (group === 1 || group === 3);
  const host = document.getElementById(rightSide ? 'gR' : 'gL');
  const offX = rightSide ? 677 : 0;
  const cv = document.createElement('canvas');
  cv.width = W; cv.height = H;
  cv.style.left = (cl - offX) + 'px'; cv.style.top = ct + 'px';
  cv.style.width = W + 'px'; cv.style.height = H + 'px';
  host.appendChild(cv);
  const color = pointColors[i % 4];
  const xs = xLabelStep[i], ys = yLabelStep[i];
  const gridColor = (step) => (c) => (c.tick && isMajor(c.tick.value, step)) ? '#e6e6e6' : '#f1f1f1';
  const gridWidth = (step) => (c) => (c.tick && isMajor(c.tick.value, step)) ? 1.1 : 0.8;
  new Chart(cv, {
    type: 'scatter',
    data: { datasets: [
      { data:[{x:xmin,y:upperLimit[i]},{x:xmax,y:upperLimit[i]}], showLine:true, borderColor:'#00FF00', borderWidth:1.4, borderDash:[1.4,3], pointRadius:0, fill:false },
      { data:[{x:xmin,y:lowerLimit[i]},{x:xmax,y:lowerLimit[i]}], showLine:true, borderColor:'#00FF00', borderWidth:1.4, borderDash:[1.4,3], pointRadius:0, fill:false },
      { data:[{x:xmin,y:meanDifference[i]},{x:xmax,y:meanDifference[i]}], showLine:true, borderColor:'#000000', borderWidth:1.3, borderDash:[4.5,3], pointRadius:0, fill:false },
      { data:[{x:fitStart[i][0],y:fitStart[i][1]},{x:fitEnd[i][0],y:fitEnd[i][1]}], showLine:true, borderColor:'#0000FF', borderWidth:2.6, pointRadius:0, fill:false },
      { data: panelPoints[i].map(p => ({x:p[0], y:p[1]})), showLine:false, pointRadius:2.4, pointBackgroundColor:color, pointBorderColor:color, pointBorderWidth:0 }
    ]},
    options: {
      responsive:false, maintainAspectRatio:false, animation:false, devicePixelRatio:1, events:[],
      layout:{ autoPadding:false, padding:{ left:0, top:EXTRA_TOP, bottom:0, right: cr - R } },
      plugins:{
        legend:{display:false}, tooltip:{enabled:false},
        title:{ display:true, text: timepointTitles[i % 4], fullSize:false, color:'#000',
          font:{family:FONT, size:16.5, weight:'normal', lineHeight:1.2},
          padding:{ top: (titleY - 9.9) - titleTop, bottom: Math.max(0, T - titleY - 9.9) } }
      },
      scales:{
        x:{ type:'linear', position:'bottom', min:xmin, max:xmax,
          ticks:{ stepSize: xs/2, includeBounds:false, autoSkip:false, maxRotation:0, minRotation:0,
            padding: Math.max(0, xTickY - B - 6), color:'#4D4D4D', font:{family:FONT, size:11},
            callback: (v) => isMajor(v, xs) ? String(Math.round(v)) : '' },
          grid:{ drawTicks:false, color: gridColor(xs), lineWidth: gridWidth(xs) },
          border:{ display:false },
          title:{ display:true, text: xAxisLabel, color:'#000', font:{family:FONT, size:14, lineHeight:1.2}, padding:{top:0,bottom:0} },
          afterFit: (s) => { s.height = cb - B; }
        },
        y:{ type:'linear', position:'left', min:ymin, max:ymax,
          ticks:{ stepSize: ys/2, includeBounds:false, autoSkip:false,
            padding: 5, color:'#4D4D4D', font:{family:FONT, size:11},
            callback: (v) => isMajor(v, ys) ? String(Math.round(v)) : '' },
          grid:{ drawTicks:false, color: gridColor(ys), lineWidth: gridWidth(ys) },
          border:{ display:false },
          title:{ display:true, text: yAxisLabel, color:'#000', font:{family:FONT, size:14, lineHeight:1.2}, padding:{top:0,bottom:0} },
          afterFit: (s) => { s.width = L - cl; }
        }
      }
    }
  });
}
for (let i = 0; i < 16; i++) makePanel(i);
</script>
</body></html>
